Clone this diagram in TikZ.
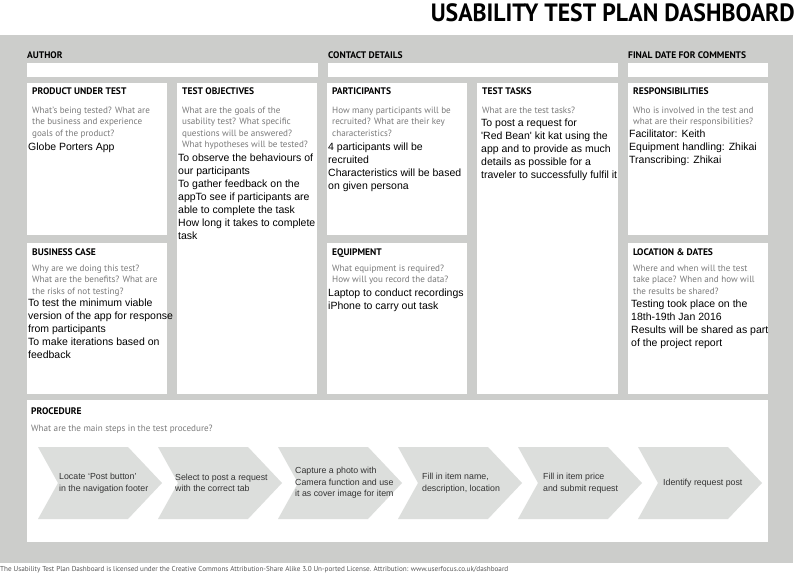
\documentclass[tikz,border=0pt]{standalone}
\usepackage{fontspec}
\setmainfont{Liberation Sans}
\newfontfamily\myriad{PT Sans}
\usepackage{xcolor}
\usetikzlibrary{positioning}

\definecolor{boardgray}{HTML}{CCCDCB}
\definecolor{chevgray}{HTML}{DCDEDC}
\definecolor{askgray}{HTML}{7A7A7A}
\definecolor{stepink}{HTML}{333333}
\definecolor{footgray}{HTML}{555555}

\tikzset{
  card/.style={fill=white},
  head/.style={anchor=base west, inner sep=0pt, font=\myriad\bfseries\fontsize{9.5}{11}\selectfont},
  ask/.style={anchor=north west, align=left, inner sep=0pt, text=askgray, font=\myriad\fontsize{9.1}{11.6}\selectfont},
  ans/.style={anchor=north west, align=left, inner sep=0pt, font=\fontsize{10.5}{12.9}\selectfont},
  chev/.style={fill=chevgray},
  chevtext/.style={anchor=west, align=left, inner sep=0pt, text=stepink, font=\fontsize{8.8}{11.5}\selectfont}
}

\begin{document}
\begin{tikzpicture}[x=1pt,y=-1pt]
\useasboundingbox (0,0) rectangle (800,588);

% board and title
\fill[boardgray] (0,35) rectangle (793,563);
\node[anchor=base east, inner sep=0pt, font=\myriad\bfseries\fontsize{25}{28}\selectfont] (title) at (795,22) {\scalebox{0.95}[1]{USABILITY TEST PLAN DASHBOARD}};

% header fields
\node[head] (author) at (27,59) {AUTHOR};
\fill[card] (27,63) rectangle (318,77);
\node[head] (contact) at (328,59) {CONTACT DETAILS};
\fill[card] (328,63) rectangle (618,77);
\node[head] (finaldate) at (628,59) {FINAL DATE FOR COMMENTS};
\fill[card] (628,63) rectangle (768,77);

% cards
\fill[card] (27,83) rectangle (167,235);
\fill[card] (177,83) rectangle (317,394);
\fill[card] (327,83) rectangle (467,235);
\fill[card] (477,83) rectangle (618,394);
\fill[card] (628,83) rectangle (768,235);
\fill[card] (27,243) rectangle (167,394);
\fill[card] (327,243) rectangle (467,394);
\fill[card] (628,243) rectangle (768,394);
\fill[card] (27,400) rectangle (768,542);

% product under test
\node[head] (product) at (32,95) {PRODUCT UNDER TEST};
\node[ask] (productask) at (32,106.5) {What’s being tested? What are\\the business and experience\\goals of the product?};
\node[ans] (productans) at (28,143) {Globe Porters App};

% test objectives
\node[head] (objectives) at (182,95) {TEST OBJECTIVES};
\node[ask] (objectivesask) at (182,106.5) {What are the goals of the\\usability test? What specific\\questions will be answered?\\What hypotheses will be tested?};
\node[ans] (objectivesans) at (178,154) {To observe the behaviours of\\our participants\\To gather feedback on the\\appTo see if participants are\\able to complete the task\\How long it takes to complete\\task};

% participants
\node[head] (participants) at (332,95) {PARTICIPANTS};
\node[ask] (participantsask) at (332,106.5) {How many participants will be\\recruited? What are their key\\characteristics?};
\node[ans] (participantsans) at (328,143) {4 participants will be\\recruited\\Characteristics will be based\\on given persona};

% test tasks
\node[head] (tasks) at (482,95) {TEST TASKS};
\node[ask] (tasksask) at (482,106.5) {What are the test tasks?};
\node[ans] (tasksans) at (481,119) {To post a request for\\\textquotesingle Red Bean\textquotesingle{} kit kat using the\\app and to provide as much\\details as possible for a\\traveler to successfully fulfil it};

% responsibilities
\node[head] (roles) at (633,95) {RESPONSIBILITIES};
\node[ask] (rolesask) at (633,106.5) {Who is involved in the test and\\what are their responsibilities?};
\node[ans] (rolesans) at (629,130) {Facilitator: Keith\\Equipment handling: Zhikai\\Transcribing: Zhikai};

% business case
\node[head] (business) at (32,255) {BUSINESS CASE};
\node[ask] (businessask) at (32,264.5) {Why are we doing this test?\\What are the benefits? What are\\the risks of not testing?};
\node[ans] (businessans) at (28,299) {To test the minimum viable\\version of the app for response\\from participants\\To make iterations based on\\feedback};

% equipment
\node[head] (equipment) at (332,255) {EQUIPMENT};
\node[ask] (equipmentask) at (332,264.5) {What equipment is required?\\How will you record the data?};
\node[ans] (equipmentans) at (328,289) {Laptop to conduct recordings\\iPhone to carry out task};

% location and dates
\node[head] (location) at (633,255) {LOCATION \& DATES};
\node[ask] (locationask) at (633,264.5) {Where and when will the test\\take place? When and how will\\the results be shared?};
\node[ans] (locationans) at (631,300) {Testing took place on the\\18th-19th Jan 2016\\Results will be shared as part\\of the project report};

% procedure
\node[head] (procedure) at (31,414) {PROCEDURE};
\node[ask] (procedureask) at (31,424.5) {What are the main steps in the test procedure?};

\fill[chev] (38,447) -- (128,447) -- (162,483) -- (128,519) -- (38,519) -- (58,483) -- cycle;
\fill[chev] (158,447) -- (248,447) -- (282,483) -- (248,519) -- (158,519) -- (178,483) -- cycle;
\fill[chev] (278,447) -- (368,447) -- (402,483) -- (368,519) -- (278,519) -- (298,483) -- cycle;
\fill[chev] (398,447) -- (488,447) -- (522,483) -- (488,519) -- (398,519) -- (418,483) -- cycle;
\fill[chev] (518,447) -- (608,447) -- (642,483) -- (608,519) -- (518,519) -- (538,483) -- cycle;
\fill[chev] (638,447) -- (728,447) -- (762,483) -- (728,519) -- (638,519) -- (658,483) -- cycle;

\node[chevtext] (step1) at (59,483) {Locate ‘Post button’\\in the navigation footer};
\node[chevtext] (step2) at (175,483) {Select to post a request\\with the correct tab};
\node[chevtext] (step3) at (295,483) {Capture a photo with\\Camera function and use\\it as cover image for item};
\node[chevtext] (step4) at (422,483) {Fill in item name,\\description, location};
\node[chevtext] (step5) at (543,483) {Fill in item price\\and submit request};
\node[chevtext] (step6) at (663,483) {Identify request post};

% licence line
\node[anchor=west, inner sep=0pt, text=footgray, font=\myriad\fontsize{7.15}{8.5}\selectfont] (license) at (0,570) {The Usability Test Plan Dashboard is licensed under the Creative Commons Attribution-Share Alike 3.0 Un-ported License. Attribution: www.userfocus.co.uk/dashboard};

\end{tikzpicture}
\end{document}
